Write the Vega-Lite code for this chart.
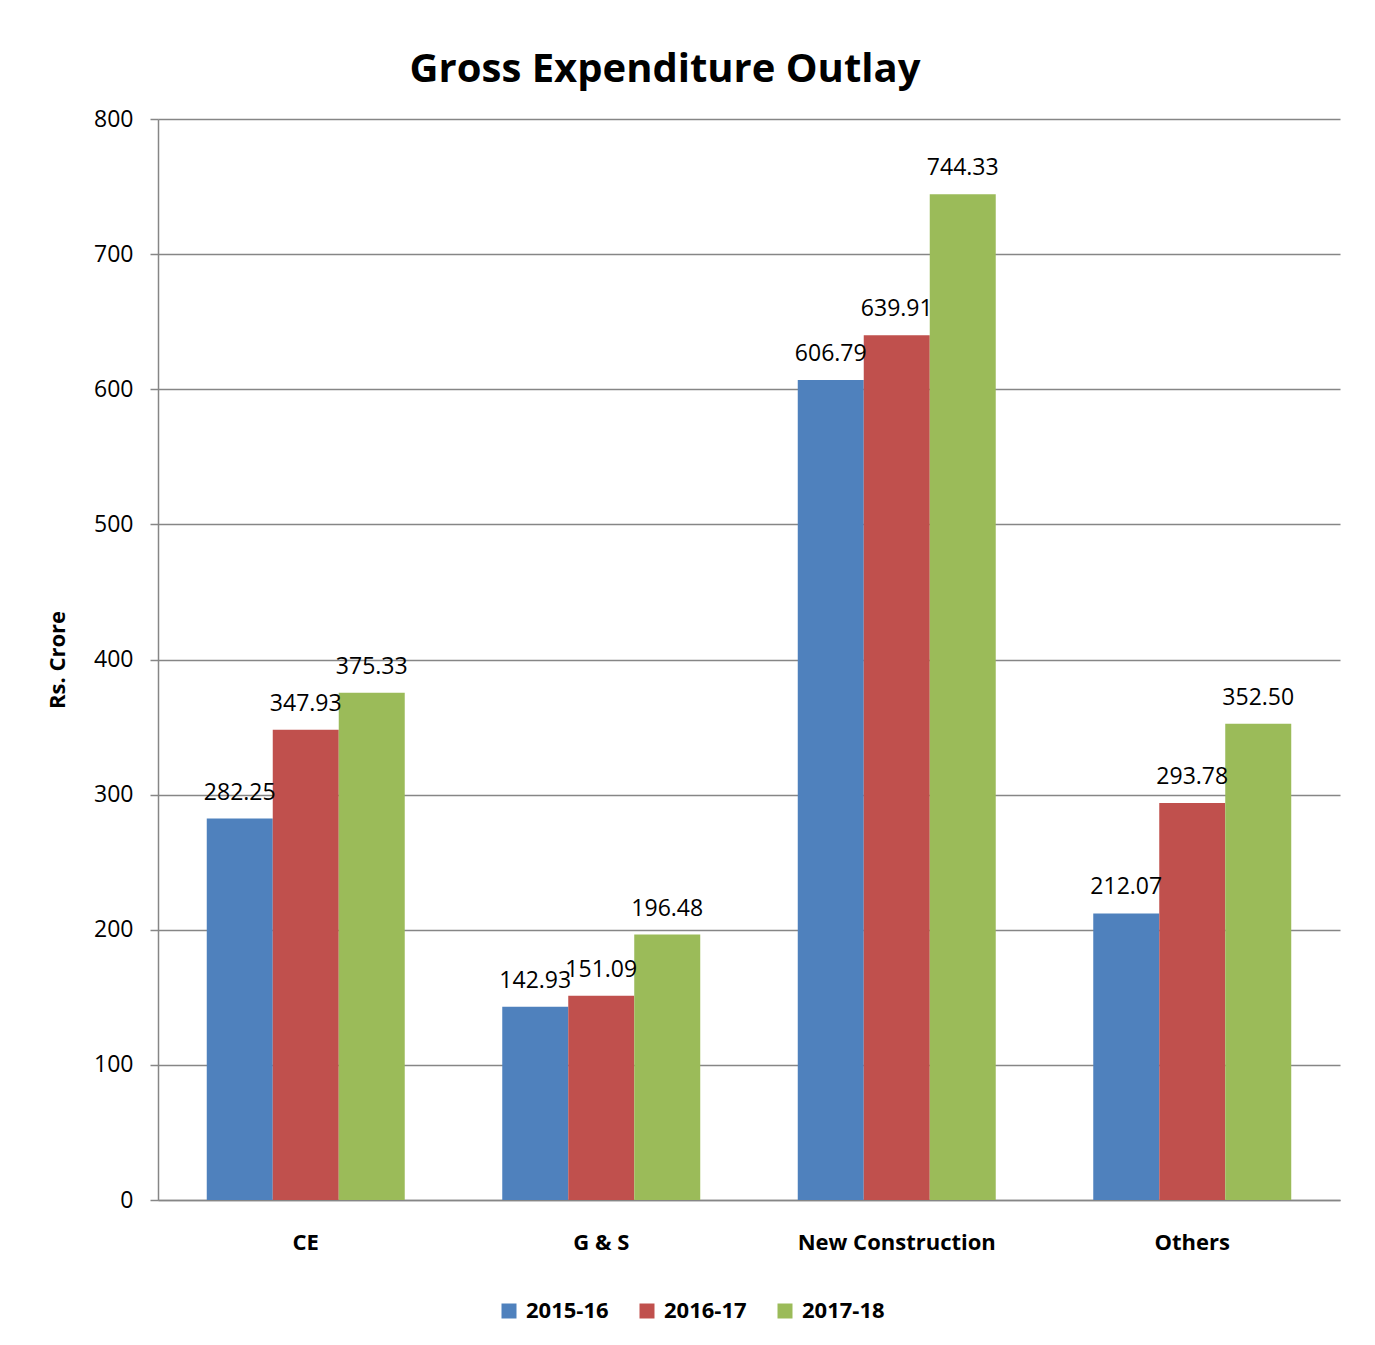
{
  "$schema": "https://vega.github.io/schema/vega-lite/v6.json",
  "width": 1182,
  "height": 1081,
  "autosize": {"type": "none"},
  "padding": {"left": 158, "top": 119, "right": 35, "bottom": 145},
  "background": "white",
  "title": {
    "text": "Gross Expenditure Outlay",
    "font": "Open Sans",
    "fontSize": 40,
    "fontWeight": "bold",
    "color": "black",
    "anchor": "middle",
    "dx": -84,
    "offset": 18
  },
  "data": {
    "values": [
      {"category": "CE", "year": "2015-16", "value": 282.25},
      {"category": "CE", "year": "2016-17", "value": 347.93},
      {"category": "CE", "year": "2017-18", "value": 375.33},
      {"category": "G & S", "year": "2015-16", "value": 142.93},
      {"category": "G & S", "year": "2016-17", "value": 151.09},
      {"category": "G & S", "year": "2017-18", "value": 196.48},
      {"category": "New Construction", "year": "2015-16", "value": 606.79},
      {"category": "New Construction", "year": "2016-17", "value": 639.91},
      {"category": "New Construction", "year": "2017-18", "value": 744.33},
      {"category": "Others", "year": "2015-16", "value": 212.07},
      {"category": "Others", "year": "2016-17", "value": 293.78},
      {"category": "Others", "year": "2017-18", "value": 352.50}
    ]
  },
  "encoding": {
    "x": {
      "field": "category",
      "type": "nominal",
      "sort": null,
      "scale": {"paddingInner": 0.33, "paddingOuter": 0.165},
      "axis": {
        "title": null,
        "labelAngle": 0,
        "labelFont": "Open Sans",
        "labelFontSize": 22,
        "labelFontWeight": "bold",
        "labelColor": "black",
        "labelPadding": 32,
        "labelLimit": 0,
        "ticks": false,
        "domain": true,
        "domainColor": "#868686",
        "domainWidth": 1.5,
        "grid": false
      }
    },
    "xOffset": {"field": "year", "type": "nominal", "scale": {"paddingInner": 0, "paddingOuter": 0}},
    "y": {
      "field": "value",
      "type": "quantitative",
      "scale": {"domain": [0, 800], "nice": false},
      "axis": {
        "title": "Rs. Crore",
        "titleFont": "Open Sans",
        "titleFontSize": 22,
        "titleFontWeight": "bold",
        "titleColor": "black",
        "titlePadding": 24,
        "values": [0, 100, 200, 300, 400, 500, 600, 700, 800],
        "format": "d",
        "labelFont": "Open Sans",
        "labelFontSize": 23,
        "labelColor": "black",
        "labelPadding": 17,
        "tickSize": 8,
        "tickColor": "#868686",
        "tickWidth": 1.5,
        "domainColor": "#868686",
        "domainWidth": 1.5,
        "grid": true,
        "gridColor": "#868686",
        "gridWidth": 1.5
      }
    }
  },
  "layer": [
    {
      "mark": {"type": "bar"},
      "encoding": {
        "color": {
          "field": "year",
          "type": "nominal",
          "scale": {"domain": ["2015-16", "2016-17", "2017-18"], "range": ["#4F81BD", "#C0504D", "#9BBB59"]},
          "legend": {
            "title": null,
            "orient": "none",
            "direction": "horizontal",
            "legendX": 340,
            "legendY": 1181,
            "symbolType": "square",
            "symbolSize": 225,
            "symbolStrokeWidth": 0,
            "labelFont": "Open Sans",
            "labelFontSize": 22,
            "labelFontWeight": "bold",
            "labelColor": "black",
            "labelOffset": 6,
            "columnPadding": 27
          }
        }
      }
    },
    {
      "mark": {"type": "text", "font": "Open Sans", "fontSize": 23, "color": "black", "baseline": "alphabetic", "dy": -19},
      "encoding": {
        "text": {"field": "value", "type": "quantitative", "format": ".2f"}
      }
    }
  ],
  "config": {
    "view": {"stroke": null},
    "axis": {"zindex": 0}
  }
}
